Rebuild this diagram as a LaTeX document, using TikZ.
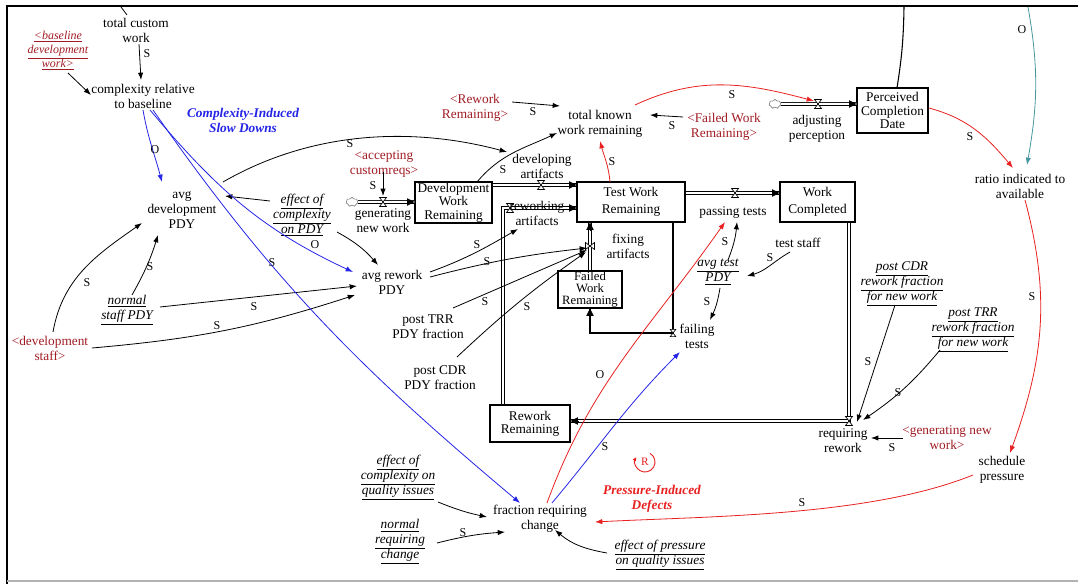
\documentclass[tikz,border=0pt]{standalone}
\usepackage{fontspec}
\setmainfont{Liberation Serif}
\usetikzlibrary{arrows.meta,shapes.symbols,calc}
\definecolor{shd}{RGB}{160,28,36}
\definecolor{lred}{RGB}{232,32,32}
\definecolor{lblue}{RGB}{36,36,230}
\definecolor{lteal}{RGB}{70,150,160}
\newcommand{\vf}{\fontsize{10}{11.3}\selectfont}
\newcommand{\uln}[1]{\underline{#1}}
\tikzset{
 var/.style={align=center, inner sep=1pt, font=\vf},
 ivar/.style={var, font=\vf\itshape},
 shvar/.style={var, text=shd},
 stock/.style={draw, line width=0.8pt, align=center, inner sep=0pt, font=\fontsize{10}{10}\selectfont},
 info/.style={draw, line width=0.6pt, -{Latex[length=5.5pt,width=4pt]}},
 pipe/.style={draw, double, double distance=1.5pt, line width=0.6pt},
 pipetip/.style={line width=0.6pt, -{Triangle[length=5.5pt,width=5.5pt]}},
 pol/.style={font=\fontsize{9}{9}\selectfont, inner sep=0pt},
 cld/.style={cloud, cloud puffs=7, draw=gray, line width=0.5pt, minimum width=9pt, minimum height=7pt, inner sep=0pt},
 valve/.pic={\draw[fill=white, line width=0.5pt] (-3.5,-4.5) -- (3.5,-4.5) -- (-3.5,4.5) -- (3.5,4.5) -- cycle;},
}
\begin{document}
\begin{tikzpicture}[x=0.75pt,y=-0.75pt]
\useasboundingbox (0,0) rectangle (1078,584);
% frame
\coordinate (fbl) at (7,584); \coordinate (ftl) at (7,6); \coordinate (ftr) at (1078,6);
\draw[line width=2.2pt] (fbl) -- (ftl) -- (ftr);
\coordinate (gbl) at (7,581); \coordinate (gbr) at (1078,581);
\draw[gray!60, line width=0.8pt] (gbl) -- (gbr);

% variables
\node[var] (tcw) at (136,30) {total custom\\work};
\node[shvar, font=\fontsize{9}{10.5}\selectfont\itshape] (bdw) at (58,51) {\uln{<baseline}\\\uln{development}\\\uln{work>}};
\node[var] (crb) at (143,96) {complexity relative\\to baseline};
\node[var, text=lblue, font=\vf\bfseries\itshape] (cisd) at (243,120) {Complexity-Induced\\Slow Downs};
\node[var] (adp) at (182,210) {avg\\development\\PDY};
\node[ivar] (ecp) at (302,215) {\uln{effect of}\\\uln{complexity}\\\uln{on PDY}};
\node[var] (arp) at (392,282) {avg rework\\PDY};
\node[ivar] (nsp) at (127,310) {\uln{normal}\\\uln{staff PDY}};
\node[shvar] (ds) at (50,348) {<development\\staff>};
\node[shvar] (acr) at (384,164) {<accepting\\customreqs>};
\node[var] (ptrr) at (428,327) {post TRR\\PDY fraction};
\node[var] (pcdr) at (440,378) {post CDR\\PDY fraction};
\node[var] (tkwr) at (600,124) {total known\\work remaining};
\node[shvar] (rwsh) at (475,108) {<Rework\\Remaining>};
\node[shvar] (fwsh) at (724,127) {<Failed Work\\Remaining>};
\node[var] (rita) at (1020,186) {ratio indicated to\\available};
\node[var] (sp) at (1002,470) {schedule\\pressure};
\node[var, text=lred, font=\vf\bfseries\itshape] (pid) at (652,499) {Pressure-Induced\\Defects};
\node[var] (frc) at (540,519) {fraction requiring\\change};
\node[ivar] (ecq) at (398,478) {\uln{effect of}\\\uln{complexity on}\\\uln{quality issues}};
\node[ivar] (nrc) at (400,542) {\uln{normal}\\\uln{requiring}\\\uln{change}};
\node[ivar] (epq) at (660,555) {\uln{effect of pressure}\\\uln{on quality issues}};
\node[ivar] (tap) at (718,272) {\uln{avg test}\\\uln{PDY}};
\node[var] (ts) at (798,243) {test staff};
\node[ivar] (pcdrw) at (902,284) {\uln{post CDR}\\\uln{rework fraction}\\\uln{for new work}};
\node[ivar] (ptrrw) at (973,330) {\uln{post TRR}\\\uln{rework fraction}\\\uln{for new work}};
\node[shvar] (gnsh) at (947,438) {<generating new\\work>};

% stocks
\node[stock, minimum width=57.75pt, minimum height=30.75pt] (dwr) at (453.5,202.5) {Development\\Work\\Remaining};
\node[stock, minimum width=81pt, minimum height=30pt, font=\fontsize{10}{12.5}\selectfont] (twr) at (631,202) {Test Work\\Remaining};
\node[stock, minimum width=56.25pt, minimum height=30pt, font=\fontsize{10}{12.5}\selectfont] (wc) at (817.5,202) {Work\\Completed};
\node[stock, minimum width=48pt, minimum height=27.75pt, font=\fontsize{9.5}{9}\selectfont] (fwr) at (590,289.5) {Failed\\Work\\Remaining};
\node[stock, minimum width=60pt, minimum height=27.75pt] (rr) at (530,423.5) {Rework\\Remaining};
\node[stock, minimum width=53.25pt, minimum height=33.75pt] (pcd) at (892.5,110.5) {Perceived\\Completion\\Date};

% clouds and valves
\node[cld] (cloud1) at (352,202) {};
\node[cld] (cloud2) at (775,104) {};
\coordinate (vgnw) at (383,202);
\coordinate (vda) at (541,185);
\coordinate (cra) at (503,208);
\coordinate (vra) at (510,208);
\coordinate (vfa) at (590,246);
\coordinate (vpt) at (735,193);
\coordinate (vft) at (673,333);
\coordinate (vrr) at (849,421);
\coordinate (vap) at (818,104);

% pipes
\draw[pipe] (cloud1.east) -- (vgnw -| dwr.west);
\draw[pipe] (vda -| dwr.east) -- (vda -| twr.west);
\draw[pipe] (vpt -| twr.east) -- (vpt -| wc.west);
\draw[pipe] (cra |- rr.north) -- (cra) -- (cra -| twr.west);
\draw[pipe] (fwr.north) -- (fwr.north |- twr.south);
\draw[line width=1.4pt] (vft |- twr.south) -- (vft) -- (vft -| fwr.south) -- (fwr.south);
\draw[pipe] (vrr |- wc.south) -- (vrr) -- (vrr -| rr.east);
\draw[pipe] (cloud2.east) -- (vap -| pcd.west);
\draw[pipetip] ($(vgnw -| dwr.west)+(-7,0)$) -- (vgnw -| dwr.west);
\draw[pipetip] ($(vda -| twr.west)+(-7,0)$) -- (vda -| twr.west);
\draw[pipetip] ($(vpt -| wc.west)+(-7,0)$) -- (vpt -| wc.west);
\draw[pipetip] ($(cra -| twr.west)+(-7,0)$) -- (cra -| twr.west);
\draw[pipetip] ($(fwr.north |- twr.south)+(0,7)$) -- (fwr.north |- twr.south);
\draw[pipetip] ($(fwr.south)+(0,7)$) -- (fwr.south);
\draw[pipetip] ($(vrr -| rr.east)+(7,0)$) -- (vrr -| rr.east);
\draw[pipetip] ($(vap -| pcd.west)+(-7,0)$) -- (vap -| pcd.west);
\pic at (vgnw) {valve};
\pic at (vda) {valve};
\pic at (vpt) {valve};
\pic at (vra) {valve};
\pic[rotate=90] at (vfa) {valve};
\pic[scale=0.8] at (vft) {valve};
\pic at (vrr) {valve};
\pic at (vap) {valve};

% flow labels
\node[var] (gnw) at (383,221) {generating\\new work};
\node[var] (da) at (542,166) {developing\\artifacts};
\node[var] (ra) at (537,213) {reworking\\artifacts};
\node[var] (fa) at (628,246) {fixing\\artifacts};
\node[var] (pt) at (733,213) {passing tests};
\node[var] (ft) at (697,336) {failing\\tests};
\node[var] (rrw) at (843,441) {requiring\\rework};
\node[var] (adjp) at (817,129) {adjusting\\perception};

% off-picture ends
\coordinate (ctop1) at (121,7);
\coordinate (ctop2) at (904,7);
\coordinate (ctop3) at (1028,7);

% black links
\draw[line width=0.6pt] (ctop1) -- ([shift={(-9,-15)}]tcw.center);
\draw[info] ([shift={(3,14)}]tcw.center) -- ([shift={(-2,-16)}]crb.center);
\draw[info] ([shift={(10,22)}]bdw.center) -- ([shift={(-52,-1)}]crb.center);
\draw[info] ([shift={(41,-28)}]adp.center) to[out=30,in=165,looseness=0.9] ([shift={(-35,-14)}]da.center);
\draw[info] ([shift={(-32,-14)}]ecp.center) -- ([shift={(43,-14)}]adp.center);
\draw[info] ([shift={(35,17)}]ecp.center) to[bend left=10] ([shift={(-14,-17)}]arp.center);
\draw[info] ([shift={(3,-16)}]ds.center) to[out=80,in=-145] ([shift={(-40,13)}]adp.center);
\draw[info] ([shift={(5,-15)}]nsp.center) to[bend right=6] ([shift={(-24,25)}]adp.center);
\draw[info] ([shift={(33,-3)}]nsp.center) -- ([shift={(-35,4)}]arp.center);
\draw[info] ([shift={(42,0)}]ds.center) to[out=5,in=-162] ([shift={(-37,13)}]arp.center);
\draw[info] ([shift={(38,-10)}]arp.center) to[out=20,in=-150] ([shift={(-19,16)}]ra.center);
\draw[info] ([shift={(38,-5)}]arp.center) to[bend left=4] ([shift={(-3,2)}]vfa);
\draw[info] ([shift={(25,-19)}]ptrr.center) -- ([shift={(-3,4)}]vfa);
\draw[info] ([shift={(17,-21)}]pcdr.center) to[bend left=4] ([shift={(-4,6)}]vfa);
\draw[info] ([shift={(-1,8)}]acr.center) -- ([shift={(0,-6)}]vgnw);
\draw[info] ([shift={(23.5,-20.5)}]dwr.center) to[out=50,in=-155] ([shift={(-43,9)}]tkwr.center);
\draw[info] ([shift={(37,-6)}]rwsh.center) -- ([shift={(-40,-18)}]tkwr.center);
\draw[info] ([shift={(-41,-10)}]fwsh.center) -- ([shift={(50,-9)}]tkwr.center);
\draw[line width=0.8pt] (ctop2) to[bend left=4] ([shift={(4.5,-22.5)}]pcd.center);
\draw[info] ([shift={(-44,0)}]gnsh.center) -- ([shift={(28,-3)}]rrw.center);
\draw[info] ([shift={(-7,21)}]pcdrw.center) -- ([shift={(8,1)}]vrr);
\draw[info] ([shift={(-33,20)}]ptrrw.center) to[bend left=8] ([shift={(14,-1)}]vrr);
\draw[info] ([shift={(-8,9)}]ts.center) to[out=-150,in=15] ([shift={(29,4)}]tap.center);
\draw[info] ([shift={(10,-12)}]tap.center) to[bend right=8] ([shift={(4,9)}]pt.center);
\draw[info] ([shift={(2,16)}]tap.center) to[bend left=8] ([shift={(13,-16)}]ft.center);
\draw[info] ([shift={(40,24)}]ecq.center) to[bend right=5] ([shift={(-53,-2)}]frc.center);
\draw[info] ([shift={(37,1)}]nrc.center) to[bend left=5] ([shift={(-35,13)}]frc.center);
\draw[info] ([shift={(-53,-2)}]epq.center) to[out=170,in=-40] ([shift={(15,11)}]frc.center);

% red links
\draw[info, lred] ([shift={(-21,-20)}]twr.center) to[out=95,in=-75] ([shift={(0,17)}]tkwr.center);
\draw[info, lred] ([shift={(35,-19)}]tkwr.center) to[out=25,in=165] ([shift={(-4,-3)}]vap);
\draw[info, lred] ([shift={(36.5,-2.5)}]pcd.center) to[out=-15,in=130] ([shift={(-7,-18)}]rita.center);
\draw[info, lred] ([shift={(5,14)}]rita.center) to[out=-75,in=70] ([shift={(8,-17)}]sp.center);
\draw[info, lred] ([shift={(-29,5)}]sp.center) to[out=-158,in=3,looseness=0.75] ([shift={(55,3)}]frc.center);
\draw[info, lred] ([shift={(7,-16)}]frc.center) to[out=70,in=-125] ([shift={(-8,9)}]pt.center);

% blue links
\draw[info, lblue] ([shift={(0,14)}]crb.center) to[out=-80,in=105] ([shift={(-20,-28)}]adp.center);
\draw[info, lblue] ([shift={(7,14)}]crb.center) to[out=-50,in=155] ([shift={(-39,-10)}]arp.center);
\draw[info, lblue] ([shift={(10,14)}]crb.center) to[out=-55,in=140] ([shift={(-20,-16)}]frc.center);
\draw[info, lblue] ([shift={(12,-16)}]frc.center) to[out=50,in=-135] ([shift={(-17,16)}]ft.center);

% teal link
\draw[info, lteal] (ctop3) to[out=-80,in=80] ([shift={(7,-21)}]rita.center);

% loop marker
\coordinate (loopc) at (645,462);
\node[text=lred, font=\fontsize{8.5}{8.5}\selectfont, inner sep=0pt] (loopR) at (loopc) {R};
\draw[lred, line width=0.7pt, -{Latex[length=3pt,width=3pt]}] ([shift={(60:7.5pt)}]loopc) arc[start angle=60, end angle=-210, radius=7.5pt];

% polarities
\node[pol] (p1) at (147,54) {S};
\node[pol] (p2) at (155,150) {O};
\node[pol] (p3) at (315,245) {O};
\node[pol] (p4) at (272,263) {S};
\node[pol] (p5) at (350,144) {S};
\node[pol] (p6) at (373,186) {S};
\node[pol] (p7) at (503,170) {S};
\node[pol] (p8) at (533,112) {S};
\node[pol] (p9) at (672,126) {S};
\node[pol] (p10) at (612,162) {S};
\node[pol] (p11) at (732,95) {S};
\node[pol] (p12) at (970,137) {S};
\node[pol] (p13) at (1022,30) {O};
\node[pol] (p14) at (1032,297) {S};
\node[pol] (p15) at (802,503) {S};
\node[pol] (p16) at (87,283) {S};
\node[pol] (p17) at (150,267) {S};
\node[pol] (p18) at (254,307) {S};
\node[pol] (p19) at (217,326) {S};
\node[pol] (p20) at (477,245) {S};
\node[pol] (p21) at (487,262) {S};
\node[pol] (p22) at (485,302) {S};
\node[pol] (p23) at (527,307) {S};
\node[pol] (p24) at (725,242) {S};
\node[pol] (p25) at (770,258) {S};
\node[pol] (p26) at (707,302) {S};
\node[pol] (p27) at (600,375) {O};
\node[pol] (p28) at (605,447) {S};
\node[pol] (p29) at (892,448) {S};
\node[pol] (p30) at (868,362) {S};
\node[pol] (p31) at (898,393) {S};
\node[pol] (p32) at (463,533) {S};
\end{tikzpicture}
\end{document}
